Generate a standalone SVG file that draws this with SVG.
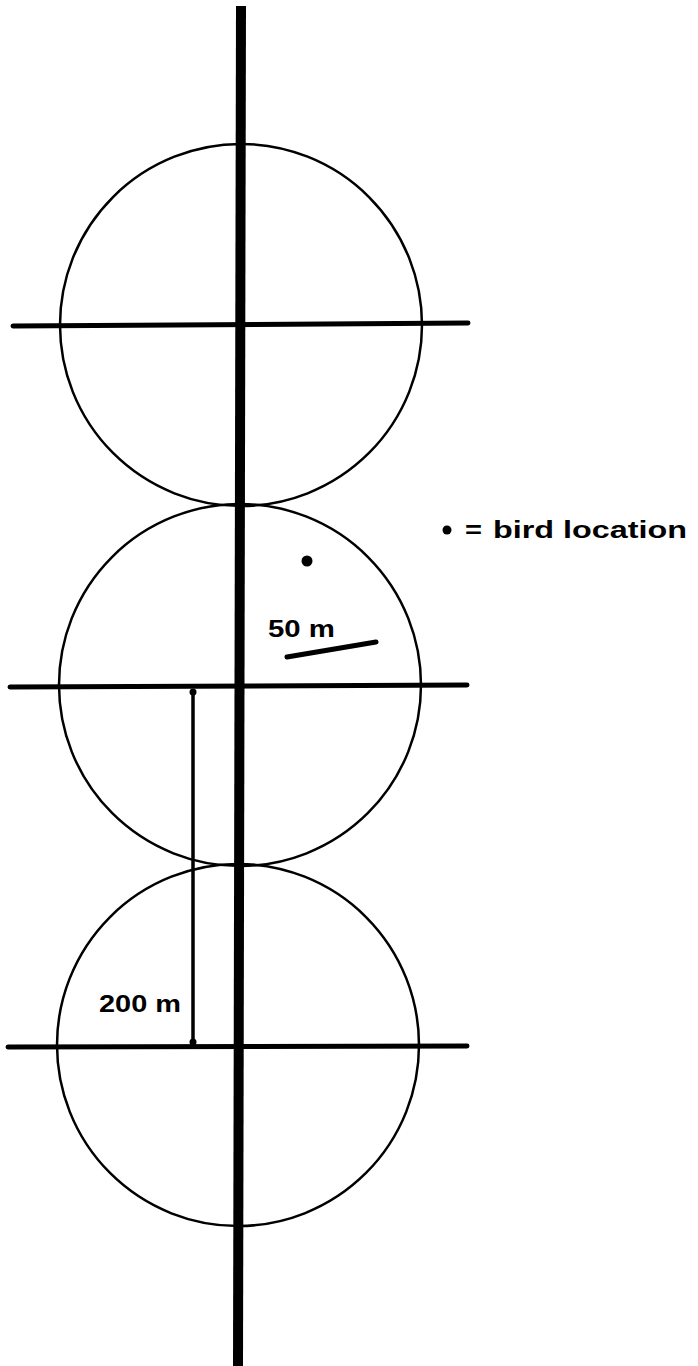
<svg xmlns="http://www.w3.org/2000/svg" width="698" height="1366" viewBox="0 0 698 1366">
<style>
.c{fill:none;stroke:#000;stroke-width:2.5}
.h{stroke:#000;stroke-width:5;stroke-linecap:round}
.t{font-family:"Liberation Sans",Arial,sans-serif;font-weight:bold;fill:#000}
</style>
<rect width="698" height="1366" fill="#fff"/>
<g id="circle1"><circle class="c" cx="241" cy="325" r="181"/></g>
<g id="circle2"><circle class="c" cx="240" cy="685" r="181"/></g>
<g id="circle3"><circle class="c" cx="238" cy="1045" r="181"/></g>
<g id="connectors">
<line x1="241" y1="6" x2="238" y2="1366" stroke="#000" stroke-width="10"/>
<line class="h" x1="13" y1="326" x2="468" y2="323"/>
<line class="h" x1="10" y1="687" x2="467" y2="685"/>
<line class="h" x1="8" y1="1047" x2="467" y2="1046"/>
<line x1="193" y1="690" x2="193" y2="1044" stroke="#000" stroke-width="3.5"/>
<circle cx="193" cy="692" r="3.5" fill="#000"/>
<circle cx="193" cy="1042" r="3.5" fill="#000"/>
</g>
<g id="scale50">
<line class="h" x1="287" y1="657" x2="376" y2="642" stroke-width="4.5"/>
<text class="t" x="268" y="637" font-size="23" textLength="67" lengthAdjust="spacingAndGlyphs">50 m</text>
</g>
<g id="label200">
<text class="t" x="99" y="1012" font-size="23" textLength="82" lengthAdjust="spacingAndGlyphs">200 m</text>
</g>
<g id="bird"><circle cx="307" cy="561" r="5.5" fill="#000"/></g>
<g id="legend">
<circle cx="447" cy="530" r="4.5" fill="#000"/>
<text class="t" x="465" y="538" font-size="24" textLength="17" lengthAdjust="spacingAndGlyphs">=</text>
<text class="t" x="493" y="538" font-size="24" textLength="194" lengthAdjust="spacingAndGlyphs">bird location</text>
</g>
</svg>
